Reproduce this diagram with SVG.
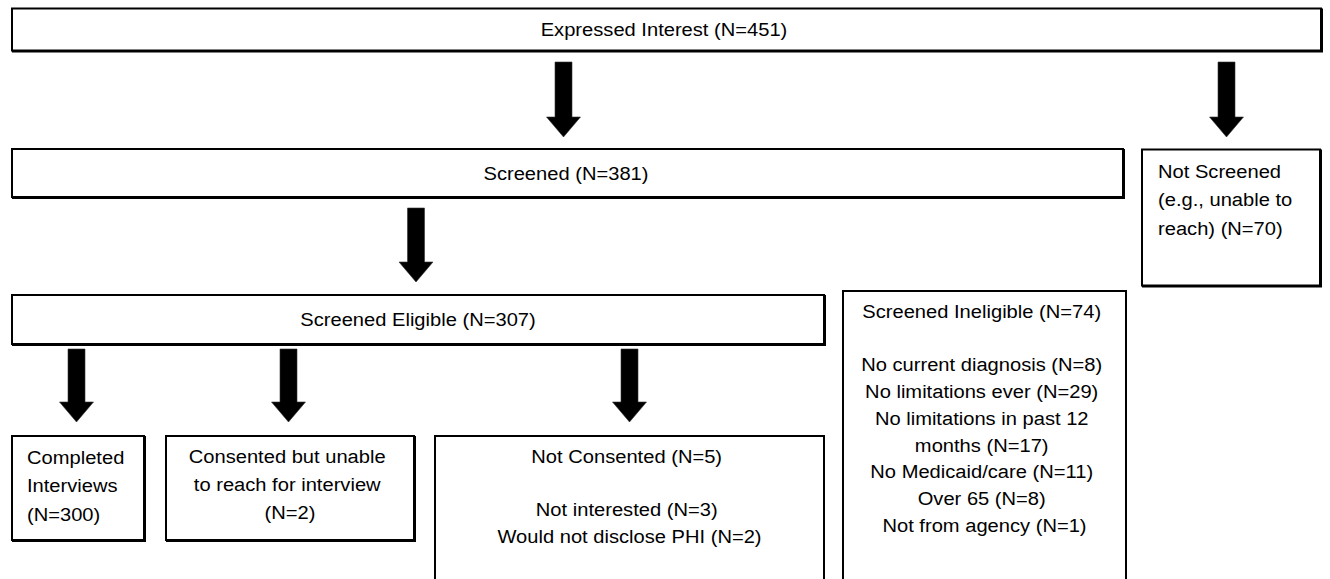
<svg xmlns="http://www.w3.org/2000/svg" width="1330" height="579" viewBox="0 0 1330 579">
<style>
  .box { fill: #ffffff; stroke: #000000; stroke-width: 2; }
  .shadow { fill: none; stroke: #000000; stroke-width: 2; }
  .t { font-family: "Liberation Sans", Arial, sans-serif; font-size: 19px; fill: #000000; }
  .c { text-anchor: middle; }
  .arrow { fill: #000000; stroke: #333333; stroke-width: 0.6; stroke-linejoin: miter; }
</style>
<rect width="1330" height="579" fill="#ffffff"/>

<g id="connectors">
  <polygon class="arrow" points="555,62 572,62 572,117 580.5,117 563.5,137 546.5,117 555,117"/>
  <polygon class="arrow" points="1218,62 1235,62 1235,117 1243.5,117 1226.5,137 1209.5,117 1218,117"/>
  <polygon class="arrow" points="407.5,208 424.5,208 424.5,262 433,262 416,282 399,262 407.5,262"/>
  <polygon class="arrow" points="68,349 85,349 85,402 93.5,402 76.5,422 59.5,402 68,402"/>
  <polygon class="arrow" points="280,349 297,349 297,402 305.5,402 288.5,422 271.5,402 280,402"/>
  <polygon class="arrow" points="621,349 638,349 638,402 646.5,402 629.5,422 612.5,402 621,402"/>
</g>

<g id="expressed-interest">
  <rect class="shadow" x="13" y="9.5" width="1309" height="42"/>
  <rect class="box" x="12" y="8.5" width="1309" height="42"/>
  <text class="t c" transform="translate(664,36) scale(1.06,1)" x="0" y="0">Expressed Interest (N=451)</text>
</g>

<g id="screened">
  <rect class="shadow" x="13" y="150" width="1111" height="48"/>
  <rect class="box" x="12" y="149" width="1111" height="48"/>
  <text class="t c" transform="translate(566,180) scale(1.06,1)" x="0" y="0">Screened (N=381)</text>
</g>

<g id="not-screened">
  <rect class="shadow" x="1143" y="150.5" width="178" height="136"/>
  <rect class="box" x="1142" y="149.5" width="178" height="136"/>
  <text class="t" transform="translate(1158,178) scale(1.06,1)">
    <tspan x="0" y="0">Not Screened</tspan>
    <tspan x="0" y="28.5">(e.g., unable to</tspan>
    <tspan x="0" y="57">reach) (N=70)</tspan>
  </text>
</g>

<g id="screened-eligible">
  <rect class="shadow" x="13" y="296" width="812" height="49"/>
  <rect class="box" x="12" y="295" width="812" height="49"/>
  <text class="t c" transform="translate(418,326) scale(1.06,1)" x="0" y="0">Screened Eligible (N=307)</text>
</g>

<g id="screened-ineligible">
  <rect class="box" x="843" y="291" width="283" height="300"/>
  <text class="t c" transform="translate(984.5,318) scale(1.06,1)">
    <tspan x="0" y="0">Screened Ineligible (N=74)</tspan>
    <tspan x="0" y="53.5">No current diagnosis (N=8)</tspan>
    <tspan x="0" y="80.2">No limitations ever (N=29)</tspan>
    <tspan x="0" y="106.9">No limitations in past 12</tspan>
    <tspan x="0" y="133.6">months (N=17)</tspan>
    <tspan x="0" y="160.3">No Medicaid/care (N=11)</tspan>
    <tspan x="0" y="187">Over 65 (N=8)</tspan>
    <tspan x="0" y="213.7">Not from agency (N=1)</tspan>
  </text>
</g>

<g id="completed-interviews">
  <rect class="shadow" x="13" y="437" width="132" height="104"/>
  <rect class="box" x="12" y="436" width="132" height="104"/>
  <text class="t" transform="translate(27,464) scale(1.06,1)">
    <tspan x="0" y="0">Completed</tspan>
    <tspan x="0" y="28.3">Interviews</tspan>
    <tspan x="0" y="56.6">(N=300)</tspan>
  </text>
</g>

<g id="consented-unreached">
  <rect class="shadow" x="167" y="437" width="248" height="104"/>
  <rect class="box" x="166" y="436" width="248" height="104"/>
  <text class="t c" transform="translate(290,463) scale(1.06,1)">
    <tspan x="0" y="0">Consented but unable</tspan>
    <tspan x="0" y="28">to reach for interview</tspan>
    <tspan x="0" y="56">(N=2)</tspan>
  </text>
</g>

<g id="not-consented">
  <rect class="box" x="435" y="436" width="389" height="160"/>
  <text class="t c" transform="translate(629.5,463) scale(1.06,1)">
    <tspan x="0" y="0">Not Consented (N=5)</tspan>
    <tspan x="0" y="53.5">Not interested (N=3)</tspan>
    <tspan x="0" y="80.2">Would not disclose PHI (N=2)</tspan>
  </text>
</g>
</svg>
